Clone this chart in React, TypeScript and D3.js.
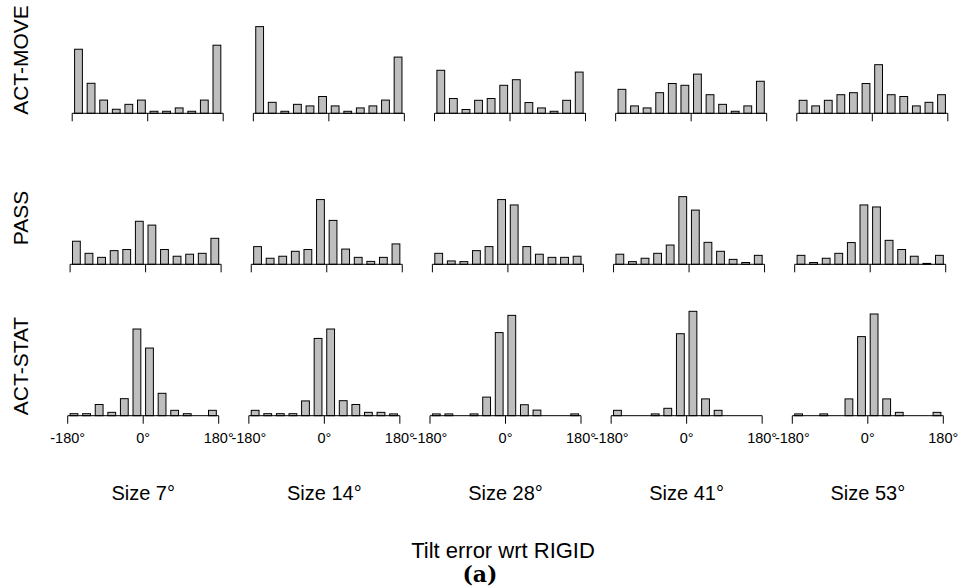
import React from "react";
import * as d3 from "d3";

// ---- data (percent of trials per 30° bin, from -180° to 180°) ----
const rowNames = ["ACT-MOVE", "PASS", "ACT-STAT"];
const sizeLabels = ["Size 7°", "Size 14°", "Size 28°", "Size 41°", "Size 53°"];
const tickValues = [-180, 0, 180];
const tickLabels = ["-180°", "0°", "180°"];
const xTitle = "Tilt error wrt RIGID";
const caption = "(a)";

const actMove = [
  [28.6, 13.4, 5.9, 1.8, 4.0, 5.9, 0.9, 0.9, 2.4, 0.9, 5.9, 30.4],
  [38.7, 4.9, 0.9, 4.0, 3.3, 7.5, 3.3, 0.9, 2.4, 3.3, 5.9, 25.1],
  [19.2, 6.6, 1.7, 5.8, 6.6, 12.5, 15.0, 4.8, 2.4, 0.9, 5.8, 18.4],
  [10.7, 3.3, 2.4, 9.2, 13.3, 12.5, 17.5, 8.3, 4.0, 0.9, 3.3, 14.3],
  [5.8, 3.3, 5.8, 8.3, 9.2, 13.3, 21.7, 8.3, 7.5, 3.3, 4.9, 8.3],
];
const pass = [
  [10.3, 4.9, 3.1, 6.1, 6.6, 19.2, 17.5, 6.6, 3.6, 4.5, 4.9, 11.6],
  [7.9, 2.7, 3.6, 5.8, 6.6, 28.9, 19.6, 6.8, 3.1, 1.3, 3.1, 9.1],
  [4.9, 1.5, 1.2, 6.1, 7.9, 28.9, 26.5, 7.9, 4.5, 3.1, 3.1, 3.6],
  [4.5, 1.2, 2.7, 4.9, 8.6, 30.2, 24.2, 9.8, 5.8, 2.2, 0.8, 4.0],
  [4.0, 0.8, 2.7, 4.9, 9.7, 26.5, 25.6, 10.7, 6.6, 3.6, 0.4, 4.0],
];
const actStat = [
  [0.9, 0.9, 5.0, 1.5, 7.6, 38.7, 30.2, 10.0, 2.4, 0.9, 0, 2.4],
  [2.4, 0.9, 0.9, 0.9, 6.6, 34.5, 38.7, 6.7, 5.0, 1.5, 1.5, 0.8],
  [0.8, 0.8, 0, 0.8, 8.3, 37.1, 44.8, 4.9, 2.5, 0, 0, 0.8],
  [2.4, 0, 0, 0.8, 3.3, 36.6, 46.6, 7.5, 2.4, 0, 0, 0],
  [0.8, 0, 0.8, 0, 7.5, 35.3, 45.4, 7.5, 1.5, 0, 0, 1.5],
];
const rowsData = [actMove, pass, actStat];

// ---- layout ----
const W = 960;
const H = 587;
const rowBaselines = [113.3, 264.3, 415.7];
const rowXStart = [72.2, 70.1, 67.7];
const colStep = 181.15;
const panelW = 151;
const yMax = 50;
const pxPerUnit = 2.24;
const tickLen = 8;
const sans = "'Liberation Sans', Arial, Helvetica, sans-serif";
const rowLabelY = [60, 218, 366];

function Panel({ values, x0, base, showLabels }: { values: number[]; x0: number; base: number; showLabels: boolean }) {
  const x = d3.scaleLinear().domain([-180, 180]).range([x0, x0 + panelW]);
  const band = d3
    .scaleBand<number>()
    .domain(d3.range(values.length))
    .range([x0, x0 + panelW])
    .paddingInner(0.38)
    .paddingOuter(0.19);
  const y = d3.scaleLinear().domain([0, yMax]).range([base, base - yMax * pxPerUnit]);
  return (
    <g>
      {values.map((v, i) => (
        <rect
          key={i}
          x={band(i)}
          y={y(v)}
          width={band.bandwidth()}
          height={base - y(v)}
          fill="#bebebe"
          stroke="#000"
          strokeWidth={1}
        />
      ))}
      <line x1={x(-180)} x2={x(180)} y1={base} y2={base} stroke="#000" strokeWidth={1} />
      {tickValues.map((t, i) => (
        <g key={t}>
          <line x1={x(t)} x2={x(t)} y1={base} y2={base + tickLen} stroke="#000" strokeWidth={1} />
          {showLabels && (
            <text x={x(t)} y={base + 27} textAnchor="middle" fontSize={14.5} fontFamily={sans}>
              {tickLabels[i]}
            </text>
          )}
        </g>
      ))}
    </g>
  );
}

export default function App() {
  const lastRow = rowsData.length - 1;
  const colCenter = (c: number) => rowXStart[lastRow] + c * colStep + panelW / 2;
  return (
    <svg width={W} height={H} style={{ position: "absolute", left: 0, top: 0, background: "#fff" }}>
      <rect x={0} y={0} width={W} height={H} fill="#fff" />
      {rowsData.map((row, r) =>
        row.map((vals, c) => (
          <Panel
            key={`${r}-${c}`}
            values={vals}
            x0={rowXStart[r] + c * colStep}
            base={rowBaselines[r]}
            showLabels={r === lastRow}
          />
        ))
      )}
      {rowNames.map((n, r) => (
        <text
          key={n}
          transform={`translate(28,${rowLabelY[r]}) rotate(-90)`}
          textAnchor="middle"
          fontSize={21}
          fontFamily={sans}
        >
          {n}
        </text>
      ))}
      {sizeLabels.map((s, c) => (
        <text key={s} x={colCenter(c)} y={500} textAnchor="middle" fontSize={20} fontFamily={sans}>
          {s}
        </text>
      ))}
      <text x={503} y={558} textAnchor="middle" fontSize={22} fontFamily={sans}>
        {xTitle}
      </text>
      <text x={480} y={582} textAnchor="middle" fontSize={22} fontWeight="bold" fontFamily="'DejaVu Serif', 'Liberation Serif', serif">
        {caption}
      </text>
    </svg>
  );
}
